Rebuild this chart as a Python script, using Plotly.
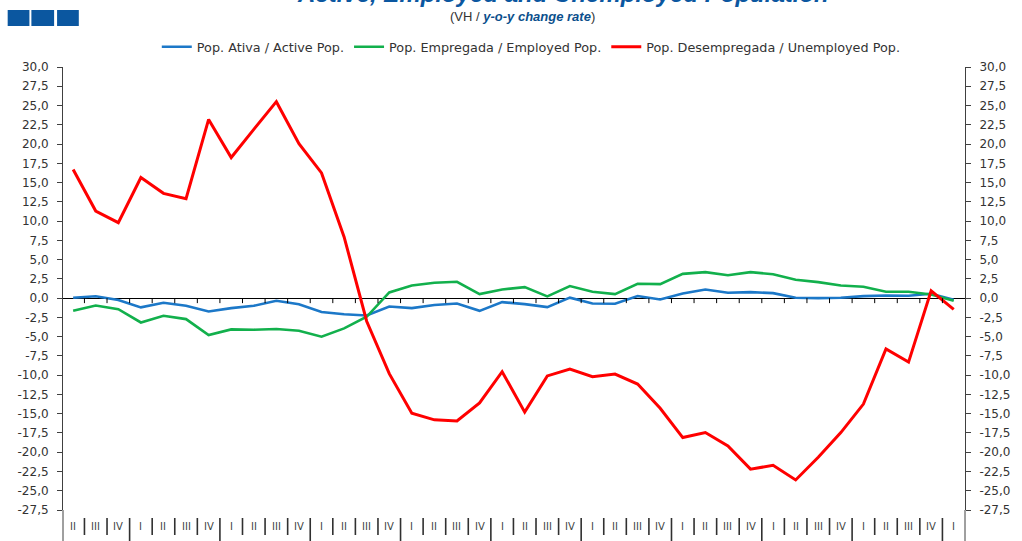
import plotly.graph_objects as go

# ---------------- data ----------------
QUARTERS = ["II", "III", "IV"] + ["I", "II", "III", "IV"] * 9 + ["I"]

active = [0.05, 0.25, -0.25, -1.2, -0.6, -1.0, -1.73, -1.3, -1.0, -0.35,
          -0.8, -1.8, -2.1, -2.25, -1.08, -1.3, -0.9, -0.7, -1.65, -0.52,
          -0.78, -1.17, 0.06, -0.7, -0.73, 0.28, -0.17, 0.6, 1.12, 0.7,
          0.78, 0.65, 0.05, 0.0, 0.05, 0.26, 0.35, 0.3, 0.56, -0.2]

employed = [-1.64, -0.95, -1.43, -3.16, -2.29, -2.72, -4.8, -4.06, -4.1, -4.0,
            -4.24, -5.0, -3.93, -2.42, 0.74, 1.64, 2.0, 2.12, 0.52, 1.12,
            1.43, 0.22, 1.56, 0.82, 0.52, 1.86, 1.82, 3.15, 3.37, 2.98,
            3.37, 3.11, 2.38, 2.08, 1.64, 1.47, 0.82, 0.82, 0.48, -0.35]

unemployed = [16.7, 11.3, 9.8, 15.65, 13.6, 12.9, 23.2, 18.25, 21.9, 25.5,
              20.05, 16.25, 7.95, -3.0, -9.8, -14.95, -15.8, -15.95, -13.6, -9.55,
              -14.8, -10.1, -9.2, -10.2, -9.85, -11.15, -14.3, -18.1, -17.45, -19.2,
              -22.2, -21.7, -23.6, -20.65, -17.45, -13.75, -6.6, -8.3, 0.95, -1.47]

Y_TICKS = [v * 2.5 for v in range(-11, 13)]
Y_TICK_TEXT = [f"{v:.1f}".replace(".", ",") for v in Y_TICKS]

SERIES_NAMES = ["Pop. Ativa / Active Pop.", "Pop. Empregada / Employed Pop.",
                "Pop. Desempregada / Unemployed Pop."]
COLORS = ["#1c78c8", "#12b04c", "#ff0000"]

TITLE = "Active, Employed and Unemployed Population"

# ---------------- geometry ----------------
W, H = 1022, 541
ML, MR, MT, MB = 63, 46, 67, 31
PW, PH = W - ML - MR, H - MT - MB
XR = [-0.45, len(QUARTERS) - 0.5]
YR = [-27.5, 30]
FONT = "DejaVu Sans"
AXC = "#404040"


def px_to_paper_x(px):
    return (px - ML) / PW


def px_to_paper_y(py):
    return (H - MB - py) / PH


x = list(range(len(QUARTERS)))

fig = go.Figure()
for name, vals, col in zip(SERIES_NAMES, [active, employed, unemployed], COLORS):
    fig.add_trace(go.Scatter(x=x, y=vals, mode="lines", name=name,
                             line=dict(color=col, width=3 if col == "#ff0000" else 2.6),
                             hoverinfo="skip"))
# invisible trace on the right axis so that it is drawn
fig.add_trace(go.Scatter(x=x, y=unemployed, yaxis="y2", mode="lines",
                         line=dict(width=0), opacity=0, showlegend=False,
                         hoverinfo="skip"))

shapes = []
# small ticks on the zero line, between categories
for k in range(len(QUARTERS) - 1):
    shapes.append(dict(type="line", xref="x", yref="y", x0=k + 0.5, x1=k + 0.5,
                       y0=0, y1=-0.65, line=dict(color="#000000", width=1)))

# separators in the category-label band below the plot
xspan = XR[1] - XR[0]
for k in range(len(QUARTERS) - 1):
    xp = (k + 0.5 - XR[0]) / xspan
    long_sep = QUARTERS[k] == "IV"
    shapes.append(dict(type="line", xref="paper", yref="paper", x0=xp, x1=xp,
                       y0=px_to_paper_y(518),
                       y1=px_to_paper_y(545 if long_sep else 535),
                       line=dict(color="#303030", width=1.6)))

# extend both y-axis lines to the bottom
for xp in (0, 1):
    shapes.append(dict(type="line", xref="paper", yref="paper", x0=xp, x1=xp,
                       y0=0, y1=px_to_paper_y(545), line=dict(color=AXC, width=1)))

# logo squares
for x0, x1 in [(7, 29), (31, 54), (57, 79)]:
    shapes.append(dict(type="rect", xref="paper", yref="paper",
                       x0=px_to_paper_x(x0), x1=px_to_paper_x(x1),
                       y0=px_to_paper_y(10), y1=px_to_paper_y(26),
                       fillcolor="#0b57a0", line=dict(width=0)))

annotations = []
for k, q in enumerate(QUARTERS):
    annotations.append(dict(xref="x", yref="paper", x=k, y=px_to_paper_y(526),
                            text=q, showarrow=False, yanchor="middle",
                            font=dict(family=FONT, size=10, color="#444444")))

annotations.append(dict(xref="paper", yref="paper", x=px_to_paper_x(569),
                        y=px_to_paper_y(8.5), yanchor="bottom", xanchor="center",
                        text="<b><i>" + TITLE + "</i></b>", showarrow=False,
                        font=dict(family="Liberation Sans", size=24, color="#0b57a0")))
annotations.append(dict(xref="paper", yref="paper", x=px_to_paper_x(528),
                        y=px_to_paper_y(17), yanchor="middle", xanchor="center",
                        text="(VH / <b><i><span style='color:#0b4f8c'>y-o-y change rate</span></i></b>)",
                        showarrow=False,
                        font=dict(family="Liberation Sans", size=13, color="#333333")))

yaxis_common = dict(range=YR, tickmode="array", tickvals=Y_TICKS, ticktext=Y_TICK_TEXT,
                    showgrid=False, showline=True, linecolor=AXC, linewidth=1,
                    ticks="outside", ticklen=5, tickcolor=AXC,
                    tickfont=dict(family=FONT, size=12, color="#333333"),
                    ticklabelstandoff=6, fixedrange=True)

fig.update_layout(
    width=W, height=H,
    margin=dict(l=ML, r=MR, t=MT, b=MB, pad=0),
    paper_bgcolor="white", plot_bgcolor="white",
    xaxis=dict(range=XR, showgrid=False, zeroline=False, showline=False,
               showticklabels=False, ticks="", fixedrange=True),
    yaxis=dict(**yaxis_common, zeroline=True, zerolinecolor="#000000", zerolinewidth=1),
    yaxis2=dict(**yaxis_common, overlaying="y", side="right", zeroline=False),
    legend=dict(orientation="h", x=px_to_paper_x(537), xanchor="center",
                y=px_to_paper_y(47), yanchor="middle",
                font=dict(family=FONT, size=12.8, color="#333333"),
                itemwidth=30, bgcolor="rgba(0,0,0,0)"),
    shapes=shapes,
    annotations=annotations,
    showlegend=True,
)

fig.write_html("out.html", config={"displayModeBar": False},
               post_script="document.body.style.margin='0px';")
